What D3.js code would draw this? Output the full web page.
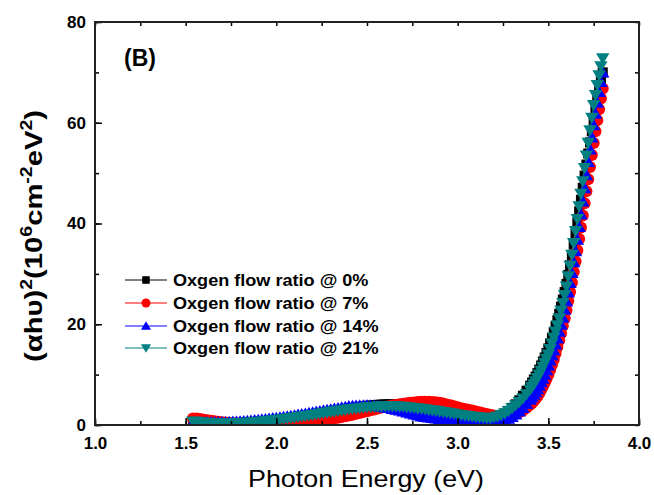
<!DOCTYPE html>
<html>
<head>
<meta charset="utf-8">
<script src="https://cdn.jsdelivr.net/npm/d3@7"></script>
<style>
  body { margin: 0; background: #fff; }
  text { font-family: "Liberation Sans", Arial, sans-serif; }
</style>
</head>
<body>
<svg id="chart" width="654" height="495"></svg>
<script>
// photon energy (eV), shared by all four samples
const energy = [
  1.54,1.56,1.58,
  1.60,1.62,1.64,1.66,1.68, 1.70,1.72,1.74,1.76,1.78, 1.80,1.82,1.84,1.86,1.88, 1.90,1.92,1.94,1.96,1.98,
  2.00,2.02,2.04,2.06,2.08, 2.10,2.12,2.14,2.16,2.18, 2.20,2.22,2.24,2.26,2.28, 2.30,2.32,2.34,2.36,2.38,
  2.40,2.42,2.44,2.46,2.48, 2.50,2.52,2.54,2.56,2.58, 2.60,2.62,2.64,2.66,2.68, 2.70,2.72,2.74,2.76,2.78,
  2.80,2.82,2.84,2.86,2.88, 2.90,2.92,2.94,2.96,2.98, 3.00,3.02,3.04,3.06,3.08, 3.10,3.12,3.14,3.16,3.18,
  3.20,3.22,3.24,3.26,3.28, 3.30,3.32,3.34,3.36,3.38, 3.40,
  3.41,3.42,3.43,3.44,3.45,3.46,3.47,3.48,3.49,3.50,
  3.51,3.52,3.53,3.54,3.55,3.56,3.57,3.58,3.59,3.60,
  3.61,3.62,3.63,3.64,3.65,3.66,3.67,3.68,3.69,3.70,
  3.71,3.72,3.73,3.74,3.75,3.76,3.77,3.78,3.79,3.80
];

// (alpha h nu)^2 in 10^6 cm^-2 eV^2
const ratio0 = [
  0.60,0.55,0.50,
  0.45,0.41,0.37,0.34,0.32, 0.30,0.30,0.31,0.33,0.36, 0.40,0.44,0.49,0.54,0.59, 0.65,0.72,0.79,0.86,0.93,
  1.00,1.10,1.20,1.30,1.40, 1.50,1.62,1.74,1.86,1.98, 2.10,2.22,2.34,2.46,2.58, 2.70,2.82,2.94,3.06,3.18,
  3.30,3.40,3.50,3.60,3.70, 3.80,3.87,3.94,4.00,4.05, 4.10,4.10,4.08,4.04,3.98, 3.90,3.81,3.71,3.61,3.50,
  3.40,3.28,3.16,3.04,2.92, 2.80,2.66,2.52,2.38,2.24, 2.10,1.98,1.86,1.74,1.62, 1.50,1.44,1.40,1.38,1.38,
  1.45,1.60,1.85,2.25,2.80, 3.40,4.10,4.90,5.80,6.80, 7.80,
  8.40,9.00,9.60,10.3,11.0,11.8,12.6,13.4,14.3,15.2,
  16.2,17.3,18.4,19.6,20.8,22.1,23.5,24.9,26.4,28.0,
  29.8,31.7,33.7,35.8,38.0,40.2,42.4,44.7,47.1,49.5,
  51.7,53.9,56.1,58.3,60.5,62.5,64.5,66.4,68.3,70.0
];
const ratio7 = [
  1.30,1.30,1.20,
  1.05,0.95,0.85,0.75,0.65, 0.55,0.48,0.42,0.37,0.33, 0.30,0.28,0.27,0.26,0.25, 0.25,0.26,0.28,0.31,0.35,
  0.40,0.45,0.50,0.56,0.62, 0.68,0.74,0.80,0.87,0.94, 1.00,1.05,1.10,1.15,1.20, 1.25,1.35,1.45,1.60,1.75,
  1.90,2.05,2.22,2.40,2.58, 2.75,2.92,3.10,3.28,3.45, 3.60,3.74,3.87,3.99,4.10, 4.20,4.30,4.40,4.48,4.55,
  4.60,4.62,4.62,4.58,4.50, 4.40,4.25,4.08,3.90,3.70, 3.50,3.34,3.18,3.02,2.86, 2.70,2.52,2.35,2.18,2.02,
  1.90,1.84,1.80,1.82,1.90, 2.05,2.25,2.55,2.90,3.40, 4.00,
  4.35,4.75,5.20,5.70,6.30,6.95,7.65,8.35,9.15,10.0,
  10.9,11.9,13.0,14.2,15.5,16.8,18.2,19.7,21.2,22.8,
  24.6,26.4,28.3,30.4,32.5,34.7,36.9,39.2,41.6,44.0,
  46.4,48.8,51.2,53.6,56.0,58.3,60.5,62.7,64.8,66.8
];
const ratio14 = [
  0.50,0.50,0.50,
  0.50,0.51,0.52,0.53,0.54, 0.55,0.57,0.60,0.63,0.66, 0.70,0.75,0.81,0.87,0.93, 1.00,1.08,1.16,1.24,1.32,
  1.40,1.50,1.60,1.70,1.80, 1.90,2.02,2.14,2.26,2.38, 2.50,2.62,2.74,2.86,2.98, 3.10,3.22,3.34,3.46,3.58,
  3.70,3.76,3.82,3.86,3.89, 3.90,3.88,3.83,3.76,3.65, 3.50,3.36,3.20,3.04,2.87, 2.70,2.50,2.30,2.10,1.90,
  1.70,1.60,1.50,1.40,1.30, 1.20,1.14,1.08,1.02,0.96, 0.90,0.86,0.82,0.78,0.74, 0.70,0.68,0.67,0.66,0.67,
  0.70,0.76,0.85,1.00,1.25, 1.60,2.10,2.70,3.40,4.20, 5.00,
  5.50,6.00,6.50,7.10,7.80,8.50,9.20,10.0,10.9,11.8,
  12.8,13.8,14.8,16.0,17.2,18.5,19.9,21.3,22.9,24.5,
  26.3,28.2,30.2,32.3,34.5,36.8,39.3,41.8,44.4,47.0,
  49.6,52.2,54.7,57.1,59.5,61.8,64.0,66.1,68.1,70.0
];
const ratio21 = [
  0.70,0.63,0.56,
  0.50,0.45,0.40,0.36,0.33, 0.30,0.29,0.29,0.30,0.32, 0.35,0.39,0.44,0.50,0.55, 0.60,0.68,0.76,0.84,0.92,
  1.00,1.10,1.20,1.30,1.40, 1.50,1.60,1.70,1.80,1.90, 2.00,2.12,2.24,2.36,2.48, 2.60,2.70,2.80,2.90,3.00,
  3.10,3.18,3.26,3.34,3.42, 3.50,3.55,3.60,3.64,3.67, 3.70,3.71,3.70,3.68,3.64, 3.60,3.53,3.45,3.36,3.28,
  3.20,3.10,3.00,2.90,2.80, 2.70,2.58,2.46,2.34,2.22, 2.10,2.00,1.90,1.80,1.70, 1.60,1.52,1.45,1.38,1.36,
  1.50,1.70,1.98,2.30,2.75, 3.30,3.90,4.55,5.25,6.10, 7.00,
  7.55,8.10,8.70,9.30,10.0,10.75,11.55,12.35,13.15,14.0,
  15.1,16.2,17.35,18.55,19.8,21.2,22.7,24.2,25.8,27.5,
  29.5,31.6,33.8,36.1,38.5,40.9,43.4,45.9,48.4,51.0,
  53.5,56.0,58.5,61.0,63.5,65.5,67.5,69.4,71.2,72.8
];

const seriesNames = ["Oxgen flow ratio @ 0%", "Oxgen flow ratio @ 7%",
                     "Oxgen flow ratio @ 14%", "Oxgen flow ratio @ 21%"];
const seriesValues = [ratio0, ratio7, ratio14, ratio21];
const seriesColors = ["#000000", "#ff0000", "#0000ff", "#008080"];
const seriesShapes = ["square", "circle", "up", "down"];

const xTicks = [1.0, 1.5, 2.0, 2.5, 3.0, 3.5, 4.0];
const yTicks = [0, 20, 40, 60, 80];

const svg = d3.select("#chart");
svg.append("rect").attr("width", 654).attr("height", 495).attr("fill", "#fff");

const margin = {left: 95, right: 639, top: 22, bottom: 425};
const x = d3.scaleLinear().domain([1, 4]).range([margin.left, margin.right]);
const y = d3.scaleLinear().domain([0, 80]).range([margin.bottom, margin.top]);

function markerPath(shape, s) {
  if (shape == "square") return `M${-s*0.42},${-s*0.42}h${s*0.84}v${s*0.84}h${-s*0.84}Z`;
  if (shape == "circle") return `M${-s/2},0a${s/2},${s/2} 0 1,0 ${s},0a${s/2},${s/2} 0 1,0 ${-s},0Z`;
  if (shape == "up") return `M0,${-s*0.52}L${s*0.56},${s*0.42}L${-s*0.56},${s*0.42}Z`;
  return `M0,${s*0.52}L${s*0.56},${-s*0.42}L${-s*0.56},${-s*0.42}Z`;
}

svg.append("clipPath").attr("id", "plotclip")
  .append("rect").attr("x", margin.left).attr("y", margin.top)
  .attr("width", margin.right - margin.left).attr("height", margin.bottom - margin.top);

const plot = svg.append("g").attr("clip-path", "url(#plotclip)");

seriesValues.forEach((vals, k) => {
  const pts = energy.map((e, i) => [e, vals[i]]);
  plot.append("path")
    .attr("d", d3.line().x(d => x(d[0])).y(d => y(d[1]))(pts))
    .attr("fill", "none").attr("stroke", seriesColors[k]).attr("stroke-width", 1);
  plot.append("g").selectAll("path")
    .data(pts).join("path")
    .attr("transform", d => `translate(${x(d[0])},${y(d[1])})`)
    .attr("d", markerPath(seriesShapes[k], 12))
    .attr("fill", seriesColors[k]);
});

// axes: inward ticks
const fontTick = g => g.selectAll("text")
  .attr("font-family", "Liberation Sans, Arial, sans-serif")
  .attr("font-weight", "bold").attr("font-size", 17).attr("fill", "#000");

const minorX = d3.range(1, 4.001, 0.25);
const minorY = d3.range(0, 80.001, 10);

svg.append("g").attr("transform", `translate(0,${margin.bottom})`)
  .call(d3.axisBottom(x).tickValues(minorX).tickSize(-4).tickFormat(""))
  .call(g => g.select(".domain").remove());
svg.append("g").attr("transform", `translate(0,${margin.bottom})`)
  .call(d3.axisBottom(x).tickValues(xTicks).tickSize(-7).tickPadding(12).tickFormat(d3.format(".1f")))
  .call(g => g.select(".domain").remove())
  .call(fontTick);

svg.append("g").attr("transform", `translate(${margin.left},0)`)
  .call(d3.axisLeft(y).tickValues(minorY).tickSize(-4).tickFormat(""))
  .call(g => g.select(".domain").remove());
svg.append("g").attr("transform", `translate(${margin.left},0)`)
  .call(d3.axisLeft(y).tickValues(yTicks).tickSize(-7).tickPadding(9))
  .call(g => g.select(".domain").remove())
  .call(fontTick);

svg.append("g").attr("transform", `translate(0,${margin.top})`)
  .call(d3.axisTop(x).tickValues(minorX).tickSize(-4).tickFormat(""))
  .call(g => g.select(".domain").remove());
svg.append("g").attr("transform", `translate(${margin.right},0)`)
  .call(d3.axisRight(y).tickValues(minorY).tickSize(-4).tickFormat(""))
  .call(g => g.select(".domain").remove());

svg.selectAll(".tick line").attr("stroke", "#000").attr("stroke-width", 1.5);

svg.append("rect")
  .attr("x", margin.left).attr("y", margin.top)
  .attr("width", margin.right - margin.left).attr("height", margin.bottom - margin.top)
  .attr("fill", "none").attr("stroke", "#222").attr("stroke-width", 2);

// panel label
svg.append("text").attr("x", 124).attr("y", 66)
  .attr("font-weight", "bold").attr("font-size", 23).text("(B)");

// axis titles
svg.append("text").attr("x", 366).attr("y", 487).attr("text-anchor", "middle")
  .attr("font-size", 24).attr("textLength", 236).attr("lengthAdjust", "spacingAndGlyphs")
  .text("Photon Energy (eV)");

const yt = svg.append("text")
  .attr("transform", "translate(42,236) rotate(-90)")
  .attr("text-anchor", "middle").attr("font-weight", "bold").attr("font-size", 24)
  .attr("textLength", 252).attr("lengthAdjust", "spacingAndGlyphs");
yt.append("tspan").text("(αhυ)");
yt.append("tspan").attr("dy", -10).attr("font-size", 16).text("2");
yt.append("tspan").attr("dy", 10).text("(10");
yt.append("tspan").attr("dy", -10).attr("font-size", 16).text("6");
yt.append("tspan").attr("dy", 10).text("cm");
yt.append("tspan").attr("dy", -10).attr("font-size", 16).text("-2");
yt.append("tspan").attr("dy", 10).text("eV");
yt.append("tspan").attr("dy", -10).attr("font-size", 16).text("2");
yt.append("tspan").attr("dy", 10).text(")");

// legend
const legendY = [280, 303, 326, 348];
seriesNames.forEach((name, k) => {
  const g = svg.append("g").attr("transform", `translate(0,${legendY[k]})`);
  g.append("line").attr("x1", 125).attr("x2", 167).attr("y1", 0).attr("y2", 0)
    .attr("stroke", seriesColors[k]).attr("stroke-width", 1);
  g.append("path").attr("transform", "translate(146,0)")
    .attr("d", markerPath(seriesShapes[k], 9)).attr("fill", seriesColors[k]);
  const t = g.append("text").attr("x", 173).attr("y", 6)
    .attr("font-weight", "bold").attr("font-size", 16)
    .text(name);
  const w = t.node().getComputedTextLength();
  t.attr("textLength", w * 1.13).attr("lengthAdjust", "spacingAndGlyphs");
});
</script>
</body>
</html>
